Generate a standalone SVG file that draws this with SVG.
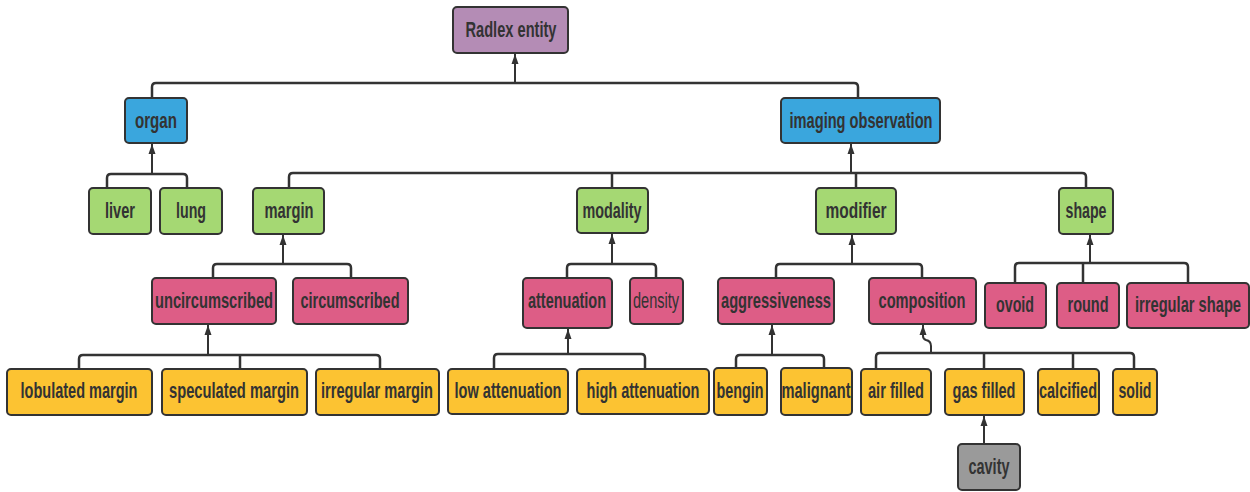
<svg xmlns="http://www.w3.org/2000/svg" width="1250" height="492" viewBox="0 0 1250 492">
<style>
.n rect{stroke:#333;stroke-width:2;rx:4;ry:4}
.n text{font-family:"Liberation Sans",Arial,sans-serif;font-weight:bold;font-size:22px;fill:#333;text-anchor:middle}
.n text.l{font-weight:normal}
.pu rect{fill:#b48cb5}
.bl rect{fill:#3aa6dd}
.gr rect{fill:#a5d873}
.pk rect{fill:#dd5d86}
.ye rect{fill:#fcc332}
.gy rect{fill:#9a9a9a}
#connectors path{fill:none;stroke:#333;stroke-width:2.5}
#connectors path.a{stroke-width:2;marker-end:url(#arr)}
</style>
<defs>
<marker id="arr" viewBox="0 0 10 10" refX="10" refY="5" markerWidth="10" markerHeight="10" markerUnits="userSpaceOnUse" orient="auto">
<path d="M0,1.5 L10,5 L0,8.5 z" fill="#333"/>
</marker>
</defs>
<g id="connectors">
<!-- Radlex -->
<path d="M152 98 V87 Q152 83 156 83 H854 Q858 83 858 87 V98"/>
<path class="a" d="M515 83 V54"/>
<!-- organ -->
<path d="M107 188 V178 Q107 174 111 174 H183 Q187 174 187 178 V188"/>
<path class="a" d="M152 174 V144"/>
<!-- imaging observation -->
<path d="M289 188 V177 Q289 173 293 173 H1082 Q1086 173 1086 177 V188"/>
<path d="M612 173 V188"/>
<path d="M856 173 V188"/>
<path class="a" d="M851 173 V144"/>
<!-- margin -->
<path d="M213 278 V268 Q213 264 217 264 H347 Q351 264 351 268 V278"/>
<path class="a" d="M283 264 V235"/>
<!-- uncircumscribed -->
<path d="M79 369 V359 Q79 355 83 355 H376 Q380 355 380 359 V369"/>
<path d="M240 355 V369"/>
<path class="a" d="M208 355 V325"/>
<!-- modality -->
<path d="M567 278 V268 Q567 264 571 264 H652 Q656 264 656 268 V278"/>
<path class="a" d="M612 264 V234"/>
<!-- attenuation -->
<path d="M494 369 V358 Q494 354 498 354 H641 Q645 354 645 358 V369"/>
<path class="a" d="M568 354 V329"/>
<!-- modifier -->
<path d="M776 278 V268 Q776 264 780 264 H918 Q922 264 922 268 V278"/>
<path class="a" d="M852 264 V235"/>
<!-- aggressiveness -->
<path d="M736 368 V359 Q736 355 740 355 H820 Q824 355 824 359 V368"/>
<path class="a" d="M772 355 V325"/>
<!-- composition -->
<path d="M876 369 V357 Q876 353 880 353 H1130 Q1134 353 1134 357 V369"/>
<path d="M984 353 V369"/>
<path d="M1073 353 V369"/>
<path class="a" d="M931 353 V346 Q931 341 926 340 Q923 339 923 336 V325"/>
<!-- gas filled -->
<path class="a" d="M984 444 V416"/>
<!-- shape -->
<path d="M1015 283 V267 Q1015 263 1019 263 H1184 Q1188 263 1188 267 V283"/>
<path d="M1083 263 V283"/>
<path class="a" d="M1090 263 V235"/>
</g>
<g id="radlex-entity" class="n pu"><rect x="453" y="7" width="115" height="46"/><text x="511" y="37" textLength="91" lengthAdjust="spacingAndGlyphs">Radlex entity</text></g>
<g id="organ" class="n bl"><rect x="125" y="98" width="62" height="45"/><text x="156" y="128" textLength="42" lengthAdjust="spacingAndGlyphs">organ</text></g>
<g id="imaging-observation" class="n bl"><rect x="781" y="98" width="159" height="45"/><text x="861" y="128" textLength="143" lengthAdjust="spacingAndGlyphs">imaging observation</text></g>
<g id="liver" class="n gr"><rect x="89" y="188" width="62" height="46"/><text x="120" y="218" textLength="30" lengthAdjust="spacingAndGlyphs">liver</text></g>
<g id="lung" class="n gr"><rect x="160" y="188" width="62" height="46"/><text x="191" y="218" textLength="30" lengthAdjust="spacingAndGlyphs">lung</text></g>
<g id="margin" class="n gr"><rect x="253" y="188" width="71" height="46"/><text x="289" y="218" textLength="49" lengthAdjust="spacingAndGlyphs">margin</text></g>
<g id="modality" class="n gr"><rect x="577" y="188" width="71" height="45"/><text x="612" y="218" textLength="59" lengthAdjust="spacingAndGlyphs">modality</text></g>
<g id="modifier" class="n gr"><rect x="816" y="188" width="80" height="46"/><text x="856" y="218" textLength="61" lengthAdjust="spacingAndGlyphs">modifier</text></g>
<g id="shape" class="n gr"><rect x="1059" y="188" width="54" height="46"/><text x="1086" y="218" textLength="41" lengthAdjust="spacingAndGlyphs">shape</text></g>
<g id="uncircumscribed" class="n pk"><rect x="152" y="278" width="124" height="46"/><text x="214" y="308" textLength="118" lengthAdjust="spacingAndGlyphs">uncircumscribed</text></g>
<g id="circumscribed" class="n pk"><rect x="293" y="278" width="115" height="46"/><text x="350" y="308" textLength="99" lengthAdjust="spacingAndGlyphs">circumscribed</text></g>
<g id="attenuation" class="n pk"><rect x="523" y="278" width="89" height="50"/><text x="567" y="308" textLength="78" lengthAdjust="spacingAndGlyphs">attenuation</text></g>
<g id="density" class="n pk"><rect x="630" y="278" width="53" height="46"/><text class="l" x="656" y="308" textLength="46" lengthAdjust="spacingAndGlyphs">density</text></g>
<g id="aggressiveness" class="n pk"><rect x="718" y="278" width="116" height="46"/><text x="776" y="308" textLength="110" lengthAdjust="spacingAndGlyphs">aggressiveness</text></g>
<g id="composition" class="n pk"><rect x="869" y="278" width="107" height="46"/><text x="922" y="308" textLength="87" lengthAdjust="spacingAndGlyphs">composition</text></g>
<g id="ovoid" class="n pk"><rect x="985" y="283" width="61" height="45"/><text x="1015" y="312" textLength="38" lengthAdjust="spacingAndGlyphs">ovoid</text></g>
<g id="round" class="n pk"><rect x="1057" y="283" width="62" height="45"/><text x="1088" y="312" textLength="41" lengthAdjust="spacingAndGlyphs">round</text></g>
<g id="irregular-shape" class="n pk"><rect x="1127" y="283" width="122" height="45"/><text x="1188" y="312" textLength="106" lengthAdjust="spacingAndGlyphs">irregular shape</text></g>
<g id="lobulated-margin" class="n ye"><rect x="7" y="369" width="145" height="46"/><text x="79" y="398" textLength="117" lengthAdjust="spacingAndGlyphs">lobulated margin</text></g>
<g id="speculated-margin" class="n ye"><rect x="162" y="369" width="145" height="46"/><text x="234" y="398" textLength="130" lengthAdjust="spacingAndGlyphs">speculated margin</text></g>
<g id="irregular-margin" class="n ye"><rect x="316" y="369" width="123" height="46"/><text x="377" y="398" textLength="112" lengthAdjust="spacingAndGlyphs">irregular margin</text></g>
<g id="low-attenuation" class="n ye"><rect x="448" y="369" width="120" height="45"/><text x="508" y="398" textLength="107" lengthAdjust="spacingAndGlyphs">low attenuation</text></g>
<g id="high-attenuation" class="n ye"><rect x="577" y="369" width="132" height="45"/><text x="643" y="398" textLength="113" lengthAdjust="spacingAndGlyphs">high attenuation</text></g>
<g id="bengin" class="n ye"><rect x="714" y="368" width="53" height="47"/><text x="740" y="398" textLength="47" lengthAdjust="spacingAndGlyphs">bengin</text></g>
<g id="malignant" class="n ye"><rect x="781" y="368" width="71" height="47"/><text x="816" y="398" textLength="69" lengthAdjust="spacingAndGlyphs">malignant</text></g>
<g id="air-filled" class="n ye"><rect x="861" y="369" width="70" height="46"/><text x="896" y="398" textLength="56" lengthAdjust="spacingAndGlyphs">air filled</text></g>
<g id="gas-filled" class="n ye"><rect x="945" y="369" width="79" height="46"/><text x="984" y="398" textLength="63" lengthAdjust="spacingAndGlyphs">gas filled</text></g>
<g id="calcified" class="n ye"><rect x="1038" y="369" width="61" height="46"/><text x="1068" y="398" textLength="58" lengthAdjust="spacingAndGlyphs">calcified</text></g>
<g id="solid" class="n ye"><rect x="1113" y="369" width="44" height="46"/><text x="1135" y="398" textLength="33" lengthAdjust="spacingAndGlyphs">solid</text></g>
<g id="cavity" class="n gy"><rect x="958" y="444" width="62" height="46"/><text x="989" y="474" textLength="41" lengthAdjust="spacingAndGlyphs">cavity</text></g>
</svg>
